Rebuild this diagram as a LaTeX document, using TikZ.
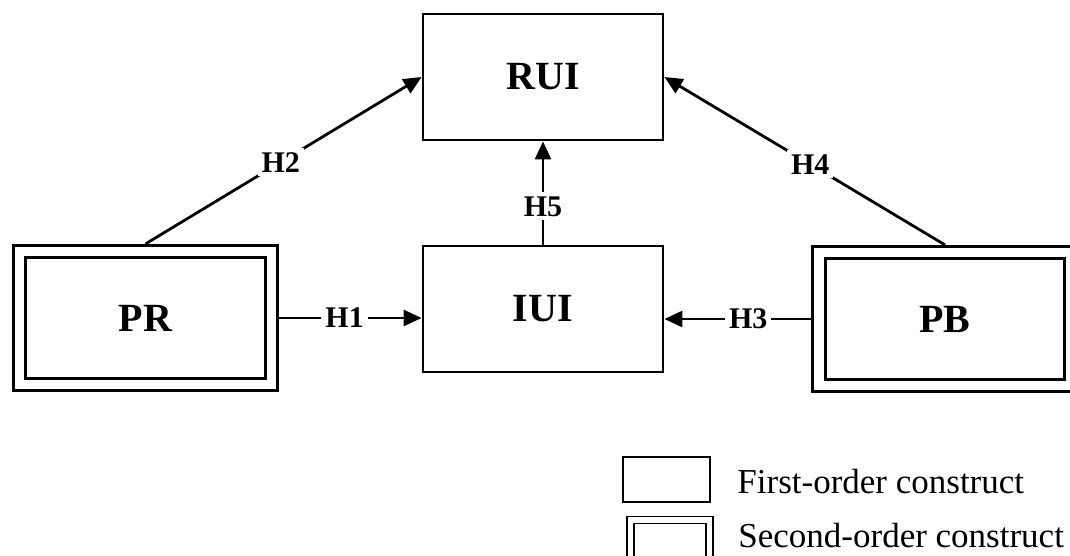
\documentclass[tikz,border=0pt]{standalone}
\usepackage{fontspec}
\setmainfont{Liberation Serif}
\usetikzlibrary{arrows.meta}

\begin{document}
\begin{tikzpicture}[x=0.5pt,y=-0.5pt,
  box/.style={draw,line width=1.4pt,minimum width=120pt,minimum height=63pt,
    font=\fontsize{20}{24}\selectfont\bfseries},
  dbox/.style={draw,line width=1.4pt,double,double distance=4.8pt,outer sep=3.8pt,
    minimum width=126pt,minimum height=66.5pt,font=\fontsize{20}{24}\selectfont\bfseries},
  link/.style={line width=1.4pt,-{Triangle[length=9pt,width=8pt]}},
  hyp/.style={fill=white,inner sep=2pt,font=\fontsize{15}{18}\selectfont\bfseries},
  legtext/.style={anchor=base west,inner sep=0pt,font=\fontsize{17.5}{21}\selectfont}]
\useasboundingbox (0,0) rectangle (1070,556);
% constructs
\node[box] (RUI) at (543,77) {RUI};
\node[box] (IUI) at (543,309) {IUI};
\node[dbox] (PR) at (145.5,318) {PR};
\node[dbox] (PB) at (945,319) {PB};
% hypotheses
\draw[link] (PR.east) -- node[hyp,pos=0.46] {H1} (PR.east -| IUI.west);
\draw[link] (PR.north) -- node[hyp,pos=0.49] {H2} (RUI.west);
\draw[link] (PB.west) -- node[hyp,pos=0.43] {H3} (PB.west -| IUI.east);
\draw[link] (PB.north) -- node[hyp,pos=0.48] {H4} (RUI.east);
\draw[link] (IUI.north) -- node[hyp,pos=0.37] {H5} (RUI.south);
% legend
\node[draw,line width=1pt,minimum width=43.5pt,minimum height=22.5pt] (L1) at (666.5,479.5) {};
\node[draw,line width=0.9pt,double,double distance=2.6pt,minimum width=39.5pt,minimum height=22.5pt] (L2) at (670,542.5) {};
\node[legtext] (T1) at (737,493) {First-order construct};
\node[legtext] (T2) at (738,547) {Second-order construct};
\end{tikzpicture}
\end{document}
